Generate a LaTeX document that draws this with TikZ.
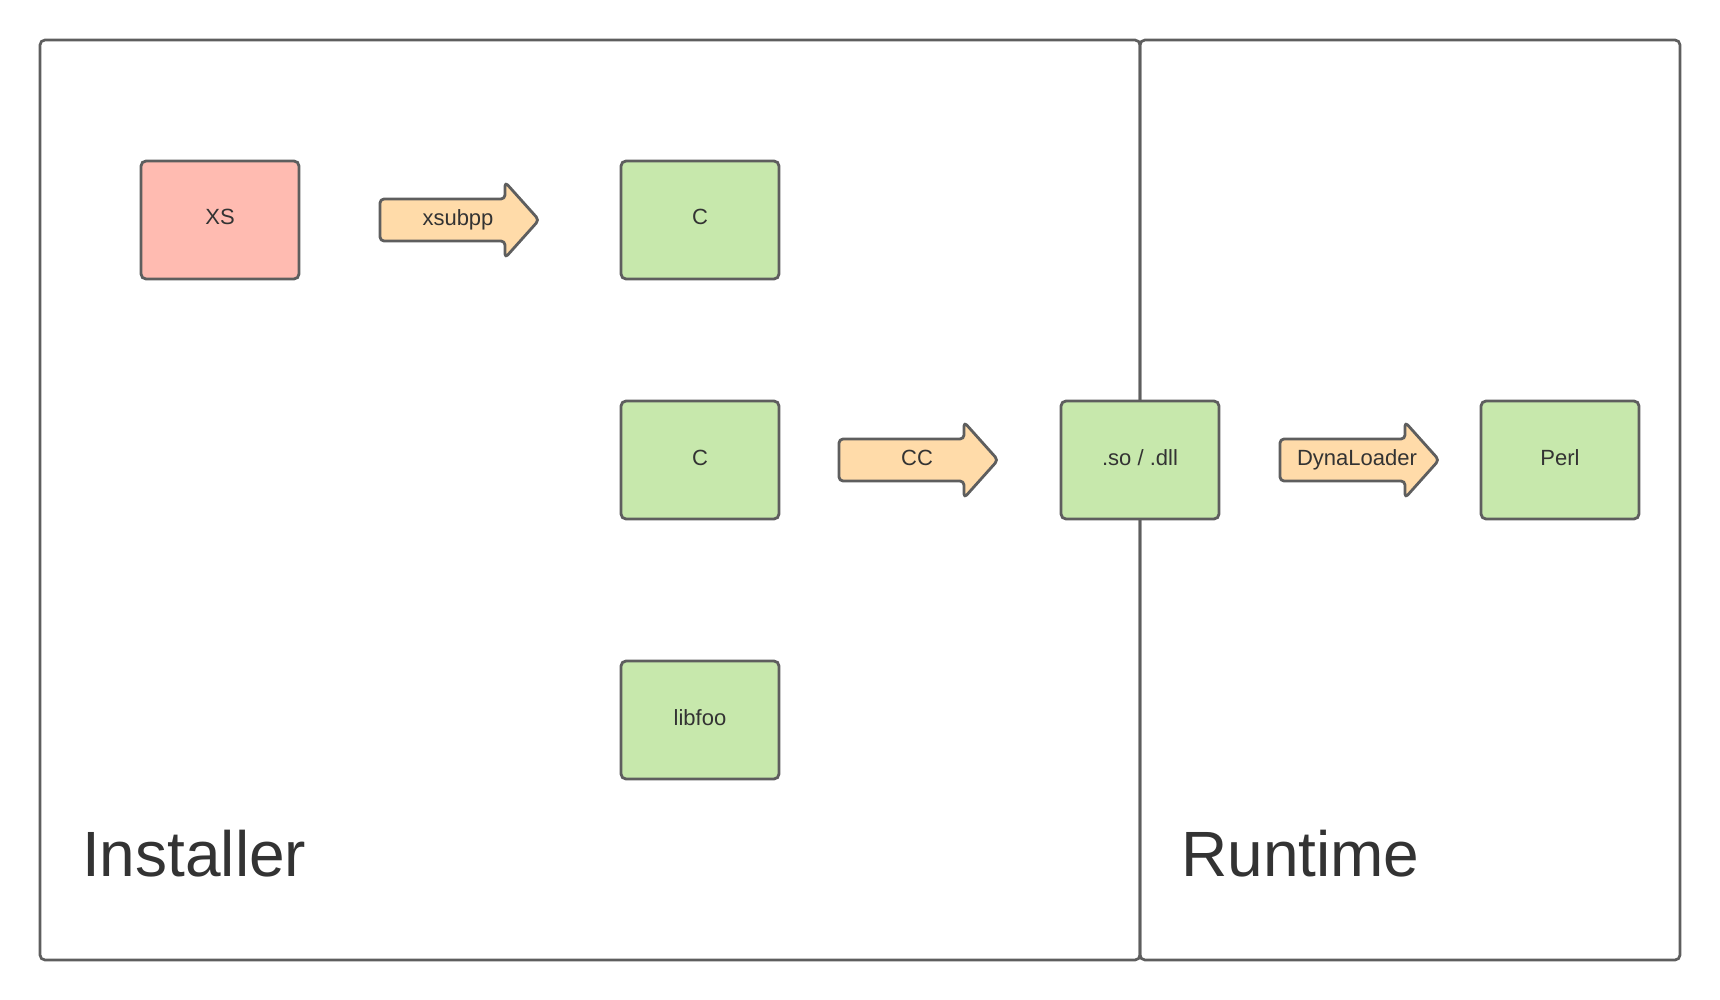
\documentclass[tikz,border=0pt]{standalone}
\usepackage{fontspec}
\setmainfont{Liberation Sans}
\definecolor{linegray}{HTML}{5E5E5E}
\definecolor{textgray}{HTML}{333333}
\definecolor{pinkfill}{HTML}{FFBBB1}
\definecolor{greenfill}{HTML}{C7E8AC}
\definecolor{orangefill}{HTML}{FFDBA9}
\begin{document}
\begin{tikzpicture}[x=1pt,y=-1pt,
  region/.style={draw=linegray,line width=2.7pt,rounded corners=5pt},
  block/.style={draw=linegray,line width=2.8pt,rounded corners=5pt,
    minimum width=158pt,minimum height=118pt,inner sep=0pt,
    text height=16pt,text depth=6pt,
    text=textgray,font=\fontsize{22}{26}\selectfont},
  xsblock/.style={block,fill=pinkfill},
  gblock/.style={block,fill=greenfill},
  arrowbody/.style={draw=linegray,line width=2.8pt,fill=orangefill,rounded corners=4pt,line join=round},
  arrowlabel/.style={text=textgray,font=\fontsize{22}{26}\selectfont,inner sep=0pt,
    text height=16pt,text depth=5pt},
  title/.style={text=textgray,font=\fontsize{64}{76}\selectfont,inner sep=0pt,anchor=base west},
  blockarrow/.pic={
    \draw[arrowbody] (0,-21) -- (125,-21) -- (125,-38) -- (159,0) -- (125,38) -- (125,21) -- (0,21) -- cycle;
  }]
\useasboundingbox (0,0) rectangle (1720,1000);
\fill[white] (0,0) rectangle (1720,1000);
% regions
\draw[region] (40,40) rectangle (1140,960);
\draw[region] (1140,40) rectangle (1680,960);
\node[title] (installer) at (82,876) {Installer};
\node[title] (runtime) at (1181,876) {Runtime};
% boxes
\node[xsblock] (xs) at (220,220) {XS};
\node[gblock] (c1) at (700,220) {C};
\node[gblock] (c2) at (700,460) {C};
\node[gblock] (libfoo) at (700,720) {libfoo};
\node[gblock] (so) at (1140,460) {.so / .dll};
\node[gblock] (perl) at (1560,460) {Perl};
% block arrows
\pic at (380,220) {blockarrow};
\node[arrowlabel] (xsubpp) at (458,220) {xsubpp};
\pic at (839,460) {blockarrow};
\node[arrowlabel] (cc) at (917,460) {CC};
\pic at (1280,460) {blockarrow};
\node[arrowlabel] (dyna) at (1357,460) {DynaLoader};
\end{tikzpicture}
\end{document}
